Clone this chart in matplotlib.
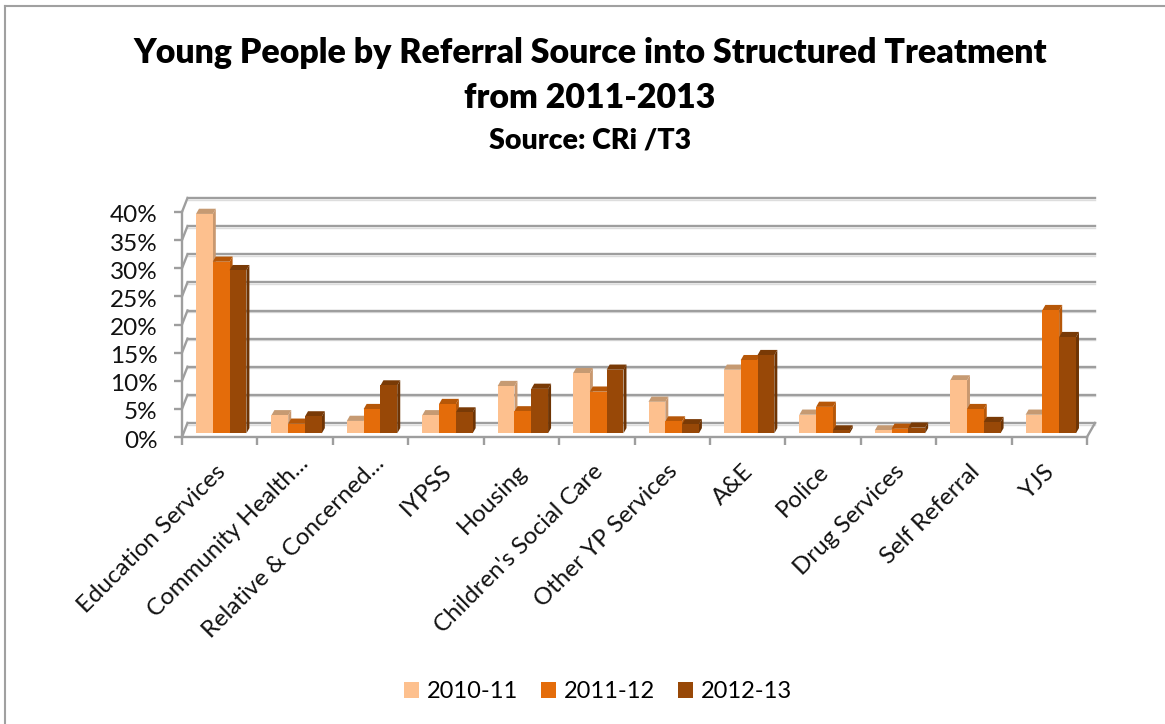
import matplotlib
matplotlib.use('Agg')
import matplotlib.pyplot as plt
from matplotlib.patches import Patch, Polygon
from matplotlib.transforms import ScaledTranslation
import numpy as np

plt.rcParams['font.family'] = ['Lato', 'DejaVu Sans']

categories = ['Education Services', 'Community Health...', 'Relative & Concerned...', 'IYPSS', 'Housing',
              "Children's Social Care", 'Other YP Services', 'A&E', 'Police', 'Drug Services',
              'Self Referral', 'YJS']
series_names = ['2010-11', '2011-12', '2012-13']
v_1011 = [39.0, 3.2, 2.2, 3.2, 8.4, 10.7, 5.6, 11.3, 3.3, 0.5, 9.4, 3.3]
v_1112 = [30.5, 1.7, 4.3, 5.2, 3.9, 7.4, 2.1, 13.0, 4.7, 0.8, 4.3, 21.9]
v_1213 = [29.0, 3.0, 8.5, 3.7, 7.9, 11.3, 1.6, 13.9, 0.5, 1.0, 2.0, 17.1]
y_ticks = [0, 5, 10, 15, 20, 25, 30, 35, 40]

front_cols = ['#FDC08E', '#E46C0A', '#984807']
top_cols = ['#C69A72', '#B65708', '#793A06']
side_cols = ['#C9986F', '#B65708', '#6E3404']
grid_col = '#9E9E9E'

W, H = 1165, 724
fig = plt.figure(figsize=(W / 100, H / 100), dpi=100)
ax = fig.add_axes([182 / W, (H - 437) / H, 905 / W, 225 / H])
ax.set_xlim(0, 12)
ax.set_ylim(0, 40)

# pixel to data helpers
px = 12 / 905
py = 40 / 225

# back wall lines and the slanted bits at the sides
for v in y_ticks:
    ax.plot([5.5 * px, 12 + 8 * px], [v + 14 * py - 1.6 * py] * 2, color='#DDDDDD', lw=1, clip_on=False, zorder=1)
    ax.plot([5.5 * px, 12 + 8 * px], [v + 14 * py] * 2, color=grid_col, lw=1.7, clip_on=False, zorder=1.1)
    ax.plot([0, 5.5 * px], [v, v + 14 * py], color=grid_col, lw=1.7, clip_on=False, zorder=1.1)
ax.plot([12, 12 + 8 * px], [0, 14 * py], color=grid_col, lw=1.7, clip_on=False, zorder=1.1)

# 3d looking bars
bar_w = 16.8 * px
base = 3.7 * py
dx = 3 * px
dy = 5.2 * py
x0 = np.arange(12) + 14 * px
z = 3
for s, vals in enumerate([v_1011, v_1112, v_1213]):
    xs = x0 + s * bar_w
    for x, v in zip(xs, vals):
        top = base + v
        ax.bar(x, v, bar_w, bottom=base, align='edge', color=front_cols[s], zorder=z + 0.5, clip_on=False)
        ax.add_patch(Polygon([(x, top), (x + dx, top + dy), (x + bar_w + dx, top + dy), (x + bar_w, top)],
                             closed=True, fc=top_cols[s], ec='none', zorder=z, clip_on=False))
        ax.add_patch(Polygon([(x + bar_w, base), (x + bar_w + dx, base + dy), (x + bar_w + dx, top + dy), (x + bar_w, top)],
                             closed=True, fc=side_cols[s], ec='none', zorder=z, clip_on=False))
    z += 1

for name in ['top', 'right']:
    ax.spines[name].set_visible(False)
for name in ['left', 'bottom']:
    ax.spines[name].set_color(grid_col)
    ax.spines[name].set_linewidth(1.7)

ax.set_yticks(y_ticks)
ax.set_yticklabels([f'{v}%' for v in y_ticks], fontsize=17.5, color='#111111')
ax.tick_params(axis='y', length=6, width=1.7, color=grid_col, pad=11.5)
for lab in ax.get_yticklabels():
    lab.set_transform(lab.get_transform() + ScaledTranslation(0, -2 / 100, fig.dpi_scale_trans))

ax.set_xticks(np.arange(13))
ax.set_xticklabels([])
ax.tick_params(axis='x', which='major', length=6, width=1.7, color=grid_col)
ax.set_xticks(np.arange(12) + 0.5, categories, minor=True)
ax.tick_params(axis='x', which='minor', length=0, pad=17)
for lab in ax.get_xticklabels(minor=True):
    lab.set_rotation(45)
    lab.set_ha('right')
    lab.set_rotation_mode('anchor')
    lab.set_fontsize(17.3)
    lab.set_color('#111111')
    # the shortened labels sit a bit further up and right
    nudge = 8 if lab.get_text().endswith('...') else 0
    lab.set_transform(lab.get_transform() + ScaledTranslation((nudge - 5) / 100, nudge / 100, fig.dpi_scale_trans))

handles = [Patch(facecolor=c, edgecolor='none') for c in front_cols]
fig.legend(handles, series_names, loc='center', bbox_to_anchor=(598 / W, 1 - 692 / H), ncol=3, frameon=False,
           fontsize=17, handlelength=0.64, handleheight=0.64, handletextpad=0.35, columnspacing=0.95)

fig.text(590 / W, 1 - 53 / H, 'Young People by Referral Source into Structured Treatment',
         ha='center', va='center', fontsize=24.4, fontweight='heavy', color='black')
fig.text(590 / W, 1 - 98 / H, 'from 2011-2013', ha='center', va='center', fontsize=24.4, fontweight='heavy', color='black')
fig.text(590 / W, 1 - 141 / H, 'Source: CRi /T3', ha='center', va='center', fontsize=20.5, fontweight='heavy', color='black')

# outer chart frame, only top and left are in the crop
fig.add_artist(plt.Line2D([5 / W, 5 / W], [0, 1 - 6 / H], color='#A0A0A0', lw=1.5))
fig.add_artist(plt.Line2D([5 / W, 1], [1 - 6 / H, 1 - 6 / H], color='#A0A0A0', lw=1.5))

fig.savefig('out.png', dpi=100)
